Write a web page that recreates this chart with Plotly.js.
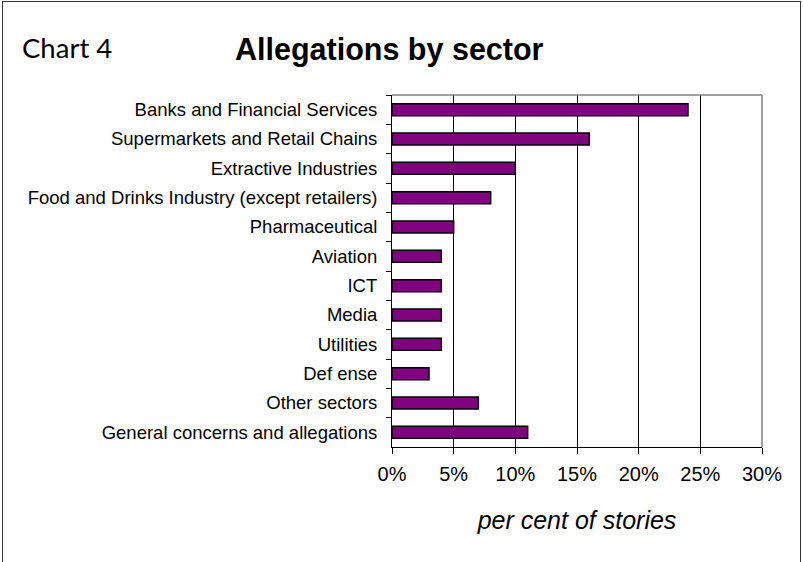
<!DOCTYPE html>
<html>
<head>
<meta charset="utf-8">
<script src="https://cdn.plot.ly/plotly-3.0.1.min.js"></script>
<style>
html,body{margin:0;padding:0;background:#fff;overflow:hidden;}
#wrap{position:relative;width:803px;height:562px;}
#chart{width:803px;height:562px;}
#frame{position:absolute;left:2px;top:1px;width:797px;height:620px;border:1px solid #333;pointer-events:none;}
</style>
</head>
<body>
<div id="wrap"><div id="chart"></div><div id="frame"></div></div>
<script>
const categories = [
  "Banks and Financial Services",
  "Supermarkets and Retail Chains",
  "Extractive Industries",
  "Food and Drinks Industry (except retailers)",
  "Pharmaceutical",
  "Aviation",
  "ICT",
  "Media",
  "Utilities",
  "Def ense",
  "Other sectors",
  "General concerns and allegations"
];
const values = [24, 16, 10, 8, 5, 4, 4, 4, 4, 3, 7, 11];
const tickVals = [0, 5, 10, 15, 20, 25, 30];
const tickLabels = ["0%", "5%", "10%", "15%", "20%", "25%", "30%"];
const chartLabel = "Chart 4";
const chartTitle = "Allegations by sector";
const xTitle = "per cent of stories";

const trace = {
  type: "bar",
  orientation: "h",
  y: categories,
  x: values,
  marker: {color: "#800080", line: {color: "#000", width: 1.5}},
  hoverinfo: "skip"
};

const PW = 370, PH = 352;
const layout = {
  width: 803, height: 562,
  margin: {l: 392, r: 41, t: 95, b: 115},
  paper_bgcolor: "#fff", plot_bgcolor: "#fff",
  showlegend: false,
  bargap: 0.59,
  font: {family: "Liberation Sans, Arial, sans-serif", color: "#000"},
  xaxis: {
    range: [0, 30],
    tickvals: tickVals, ticktext: tickLabels,
    ticks: "outside", ticklen: 6, tickcolor: "#000", tickwidth: 1,
    showgrid: true, gridcolor: "#000", gridwidth: 1,
    showline: true, linecolor: "#000", linewidth: 1,
    zeroline: false,
    tickfont: {size: 20, color: "#000"},
    ticklabelstandoff: 3,
    title: {text: xTitle, font: {size: 25, style: "italic", color: "#000"}, standoff: 27},
    fixedrange: true
  },
  yaxis: {
    type: "category",
    autorange: "reversed",
    ticks: "outside", ticklen: 5, tickcolor: "#000", tickwidth: 1,
    tickson: "boundaries",
    showgrid: false,
    showline: true, linecolor: "#000", linewidth: 1,
    tickfont: {size: 18.5, color: "#000"},
    ticklabelstandoff: 10,
    fixedrange: true
  },
  shapes: [
    {type: "line", xref: "paper", yref: "paper", x0: 0, x1: 1, y0: 1, y1: 1, line: {color: "#808080", width: 1.5}},
    {type: "line", xref: "paper", yref: "paper", x0: 1, x1: 1, y0: 0, y1: 1, line: {color: "#808080", width: 1.5}}
  ],
  annotations: [
    {text: chartLabel, xref: "paper", yref: "paper", x: (20-392)/PW, y: 1 + 47/PH, xanchor: "left", yanchor: "middle",
     showarrow: false, font: {family: "Lato, sans-serif", size: 27.5, color: "#000"}},
    {text: "<b>" + chartTitle + "</b>", xref: "paper", yref: "paper", x: (389-392)/PW, y: 1 + 46/PH, xanchor: "center", yanchor: "middle",
     showarrow: false, font: {family: "Liberation Sans, Arial, sans-serif", size: 30.5, color: "#000"}}
  ]
};

Plotly.newPlot("chart", [trace], layout, {displayModeBar: false, staticPlot: true});
</script>
</body>
</html>
